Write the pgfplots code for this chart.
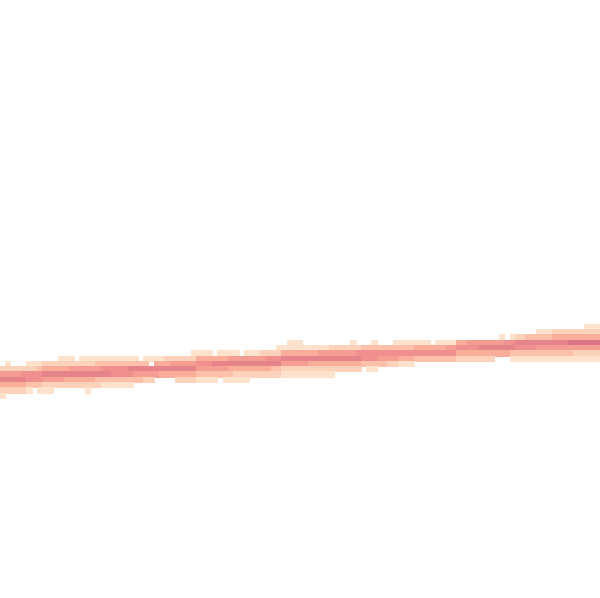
\documentclass[border=0pt]{standalone}
\usepackage{pgfplots}
\usepackage{pgfplotstable}
\pgfplotsset{compat=1.18}
\pgfplotstableread{
c r v0 v1 v2 v3 v4 v5 v6 v7 v8
0 67 0 0 2 5 7 4 2 1 0
1 67 0 1 2 5 7 4 2 0 0
2 67 0 0 2 5 7 4 2 0 0
3 67 0 0 2 5 7 4 2 0 0
4 67 0 0 2 6 7 4 2 0 0
5 67 0 1 2 6 6 3 1 0 0
6 67 0 1 2 6 6 3 0 0 0
7 67 0 1 3 6 6 3 1 0 0
8 66 0 0 2 4 7 5 2 1 0
9 66 0 0 2 4 7 5 2 1 0
10 66 0 0 2 4 7 5 2 0 0
11 66 0 1 2 4 7 5 2 0 0
12 66 0 1 2 4 7 4 2 0 0
13 66 0 1 2 5 7 4 2 0 0
14 66 0 0 2 5 7 4 2 0 0
15 66 0 1 2 5 7 4 2 0 0
16 66 0 1 2 5 7 4 2 1 0
17 66 0 1 2 5 7 4 2 0 0
18 66 0 1 3 5 7 3 2 0 0
19 66 0 1 3 6 7 3 1 0 0
20 66 0 1 3 6 7 3 1 0 0
21 66 0 1 3 6 6 3 1 0 0
22 65 0 0 1 3 6 6 3 1 0
23 65 0 0 1 3 6 6 3 1 0
24 65 0 0 1 3 7 6 3 1 0
25 65 0 0 1 3 7 5 3 0 0
26 65 0 0 0 3 7 5 3 0 0
27 65 0 0 1 3 7 5 2 0 0
28 65 0 0 1 0 7 5 2 0 0
29 65 0 0 1 4 7 5 0 0 0
30 65 0 0 1 4 7 4 0 0 0
31 65 0 0 2 4 7 4 0 0 0
32 65 0 0 2 5 7 4 0 0 0
33 65 0 0 2 5 7 4 2 0 0
34 65 0 0 2 5 7 4 2 0 0
35 65 0 0 2 5 7 4 2 0 0
36 65 0 1 2 5 7 4 2 0 0
37 64 0 0 1 4 6 5 3 1 0
38 64 0 0 1 4 6 5 3 1 0
39 64 0 0 1 4 6 5 3 1 0
40 64 0 0 0 4 7 5 3 1 0
41 64 0 0 1 4 7 5 3 0 0
42 64 0 0 1 4 7 5 3 1 0
43 64 0 0 1 5 7 4 3 1 0
44 64 0 0 1 5 7 4 2 1 0
45 64 0 0 0 5 7 4 2 1 0
46 64 0 0 1 5 7 4 2 1 0
47 64 0 0 1 5 7 4 2 0 0
48 64 0 0 1 5 7 4 2 0 0
49 64 0 0 2 5 7 4 2 0 0
50 64 0 0 2 6 7 4 2 0 0
51 64 0 0 2 6 7 3 2 0 0
52 64 0 1 2 6 7 3 2 0 0
53 63 0 0 1 4 7 5 2 1 0
54 63 0 1 1 4 7 5 2 1 0
55 63 0 1 1 4 7 5 2 1 0
56 63 0 1 1 4 7 5 2 1 0
57 63 0 0 1 4 7 5 2 1 0
58 63 0 0 1 4 7 4 2 1 0
59 63 0 0 1 4 7 4 2 1 0
60 63 0 0 1 5 7 4 2 1 0
61 63 0 0 1 5 7 4 2 1 0
62 63 0 0 2 5 7 4 2 1 0
63 63 0 0 2 5 7 4 2 0 0
64 63 0 0 2 5 7 4 2 0 0
65 63 0 0 2 5 7 4 2 0 0
66 63 0 1 2 5 7 4 2 0 0
67 63 0 0 2 6 7 4 2 0 0
68 62 0 0 0 3 6 6 3 0 0
69 62 0 0 0 3 6 6 3 1 0
70 62 0 0 1 3 6 6 3 1 0
71 62 0 0 0 3 6 5 3 0 0
72 62 0 0 0 3 6 5 3 0 0
73 62 0 0 0 3 6 5 2 0 0
74 62 0 0 1 3 6 5 2 0 0
75 62 0 0 1 3 6 4 1 0 0
76 62 0 0 1 3 6 4 1 0 0
77 62 0 0 1 3 6 4 1 0 0
78 62 0 0 1 4 6 3 0 0 0
79 62 0 0 1 4 6 3 0 0 0
80 62 0 0 1 4 6 3 0 0 0
81 62 0 0 0 4 6 3 0 0 0
82 62 0 0 1 4 6 3 0 0 0
83 62 0 0 1 4 6 3 0 0 0
84 62 0 0 1 5 6 3 0 0 0
85 62 0 0 1 5 6 3 0 0 0
86 61 0 0 0 4 6 4 2 0 0
87 61 0 0 0 4 6 4 2 0 0
88 61 0 0 0 5 6 4 2 0 0
89 61 0 0 0 5 6 4 2 0 0
90 61 0 0 0 5 7 4 2 0 0
91 61 0 0 0 5 7 4 2 0 0
92 61 0 0 0 5 7 4 2 0 0
93 61 0 0 0 5 7 4 0 0 0
94 61 0 0 1 5 7 4 0 0 0
95 61 0 0 0 6 7 4 0 0 0
96 61 0 0 1 6 7 3 1 0 0
97 60 0 0 0 2 7 6 3 1 0
98 60 0 0 0 2 7 6 3 1 0
99 60 0 0 0 3 7 6 3 1 0
100 60 0 0 0 3 7 6 3 1 0
101 60 0 0 1 3 7 5 3 1 0
102 60 0 0 1 3 7 5 3 1 0
103 60 0 0 1 3 7 5 3 1 0
104 60 0 0 2 4 7 5 3 1 0
105 60 0 0 2 4 7 5 3 1 0
106 60 0 0 2 4 7 5 3 1 0
107 60 0 0 2 4 8 5 3 1 0
108 60 0 0 2 4 8 5 2 1 0
109 60 0 0 2 4 8 5 2 1 0
110 60 0 1 2 4 8 5 2 1 0
111 60 0 1 2 4 8 5 2 1 0
112 60 0 1 2 4 8 5 2 1 0
}\data
\begin{document}
\begin{tikzpicture}
\begin{axis}[
  width=225pt, height=225pt, scale only axis,
  xmin=0, xmax=112.5, ymin=0, ymax=112.5,
  axis line style={draw=none},
  xtick=\empty, ytick=\empty,
  axis background/.style={fill=white},
  clip=true,
  colormap={heat}{rgb255=(255,255,255) rgb255=(254,226,204) rgb255=(253,210,186) rgb255=(252,193,168) rgb255=(250,174,154) rgb255=(246,157,147) rgb255=(239,143,142) rgb255=(230,132,140) rgb255=(217,116,137)},
  point meta min=0, point meta max=8,
]
\pgfplotsinvokeforeach{0,...,8}{
  \addplot[scatter, only marks, mark=square*, mark size=1pt,
    scatter/use mapped color={draw=mapped color, fill=mapped color},
    mark options={line width=0.15pt},
    unbounded coords=discard,
    restrict expr to domain={\thisrow{v#1}}{0.5:10},
    point meta=\thisrow{v#1}]
    table[x expr=\thisrow{c}+0.5, y expr=112-\thisrow{r}-#1] {\data};
}
\end{axis}
\end{tikzpicture}
\end{document}
